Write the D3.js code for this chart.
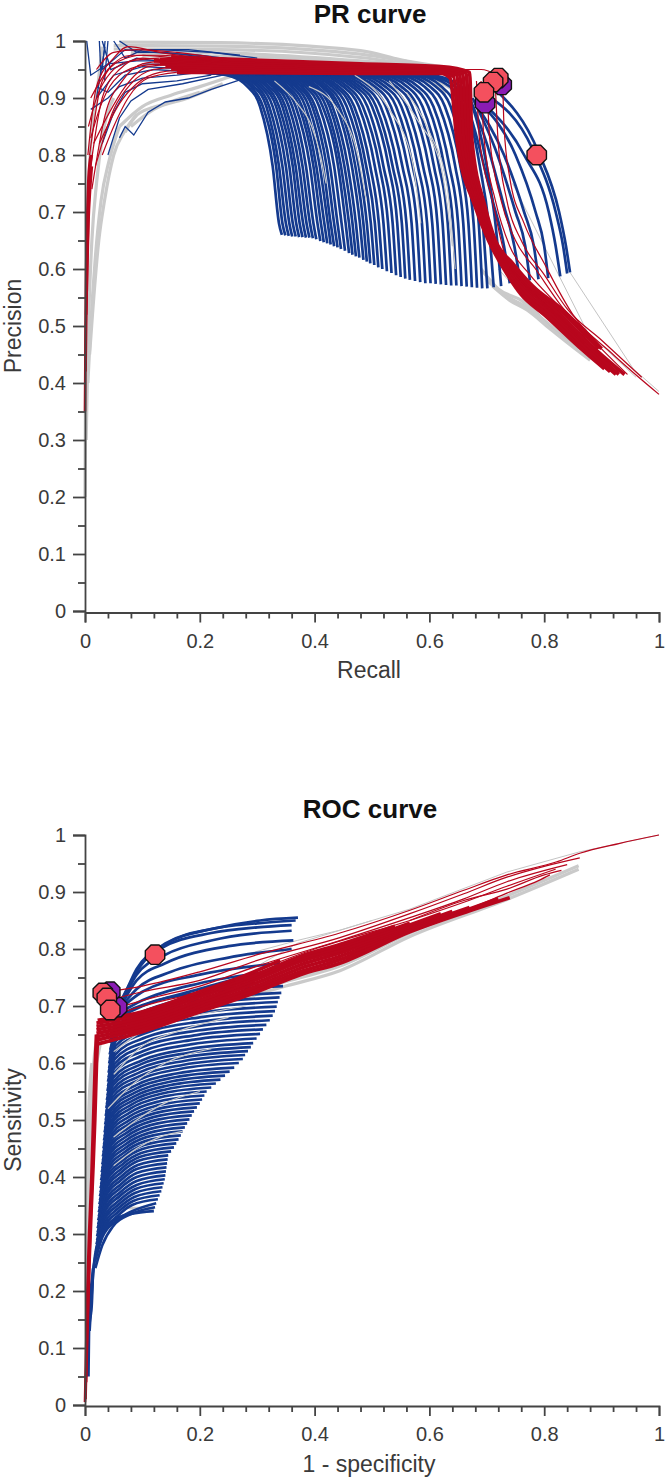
<!DOCTYPE html>
<html>
<head>
<meta charset="utf-8">
<script src="https://cdn.jsdelivr.net/npm/d3@7"></script>
<style>
  html, body { margin: 0; padding: 0; background: #fff; }
  text { font-family: "Liberation Sans", sans-serif; }
  .domain, .tick line { stroke: #444; stroke-width: 1.8; }
  .tick text { font-size: 20px; fill: #3a3a3a; font-family: "Liberation Sans", sans-serif; }
</style>
</head>
<body>
<div id="chart"></div>
<script>
// values
const yMajor = [0, 0.1, 0.2, 0.3, 0.4, 0.5, 0.6, 0.7, 0.8, 0.9, 1];
const yMinor = [0.05, 0.15, 0.25, 0.35, 0.45, 0.55, 0.65, 0.75, 0.85, 0.95];
const xMajor = [0, 0.2, 0.4, 0.6, 0.8, 1];
const xMinor = [0.04, 0.08, 0.12, 0.16, 0.24, 0.28, 0.32, 0.36, 0.44, 0.48, 0.52, 0.56, 0.64, 0.68, 0.72, 0.76, 0.84, 0.88, 0.92, 0.96];

// PR curve
const prGray = [
  [[0,.2],[.001,.4],[.003,.6],[.006,.72],[.01,.82],[.02,.9],[.03,.99]],
  [[.002,.3],[.006,.5],[.012,.65],[.02,.75],[.03,.83],[.05,.9]],
  [[.005,.4],[.01,.5],[.018,.62],[.028,.72],[.042,.79],[.06,.85]],
  [[.008,.45],[.013,.52],[.024,.65],[.034,.72],[.05,.8],[.068,.84],[.09,.87]],
  [[.06,.998],[.235,.997],[.48,.983],[.55,.967],[.62,.955]],
  [[.05,.992],[.235,.991],[.48,.977],[.62,.952]],
  [[.05,.986],[.235,.985],[.48,.971],[.63,.95]],
  [[.08,.98],[.235,.979],[.48,.965],[.64,.95]],
  [[.1,.974],[.3,.972],[.5,.96],[.64,.945]],
  [[.52,.948],[.58,.942],[.61,.933],[.64,.915]],
  [[.56,.94],[.6,.928],[.63,.91]],
  [[.06,.85],[.1,.885],[.15,.905],[.2,.92],[.26,.94]],
  [[.08,.85],[.12,.88],[.18,.9],[.24,.925]],
  [[.07,.84],[.09,.87],[.14,.89],[.2,.91]],
  [[.71,.57],[.74,.545],[.77,.528],[.81,.495],[.85,.463],[.88,.44]],
  [[.7,.58],[.73,.555],[.77,.532],[.82,.49],[.86,.46]],
  [[.69,.6],[.72,.565],[.76,.545],[.8,.51],[.85,.47]]
];
const prGrayOver = [
  [[.33,.93],[.37,.89],[.395,.85],[.41,.8],[.42,.75]],
  [[.39,.92],[.44,.88],[.475,.8],[.49,.72]],
  [[.47,.94],[.53,.88],[.57,.79],[.585,.68]],
  [[.53,.93],[.58,.86],[.62,.78],[.64,.64]],
  [[.56,.91],[.6,.84],[.63,.75],[.645,.6]]
];
const prGrayThin = [
  [[.845,.594],[.955,.425],[1,.385]],
  [[.745,.75],[.875,.49],[.96,.41]],
  [[.72,.6],[.81,.5],[.9,.43]]
];
const prBluePlateau = [.2, .945];
const prBlueLevels = [.94, .92, .885, .78, .68];
// each row: recall at the five levels above, then the last point of the curve
const prBlueArcs = [
  [.247,.283,.305,.327,.338,.343,.66],
  [.252,.289,.31,.333,.344,.349,.659],
  [.257,.294,.316,.338,.35,.355,.658],
  [.262,.3,.321,.344,.356,.361,.657],
  [.267,.305,.327,.35,.362,.367,.657],
  [.272,.31,.333,.356,.368,.373,.656],
  [.277,.316,.338,.362,.374,.379,.656],
  [.282,.321,.344,.367,.38,.385,.655],
  [.287,.327,.349,.373,.386,.391,.655],
  [.292,.332,.355,.379,.392,.397,.654],
  [.297,.337,.361,.385,.398,.403,.652],
  [.303,.344,.367,.392,.405,.41,.649],
  [.308,.349,.373,.398,.411,.416,.647],
  [.313,.354,.378,.403,.417,.422,.645],
  [.318,.36,.384,.409,.423,.428,.643],
  [.324,.366,.39,.415,.428,.434,.64],
  [.329,.371,.396,.421,.434,.44,.638],
  [.334,.377,.401,.427,.44,.446,.635],
  [.34,.383,.408,.434,.447,.453,.632],
  [.346,.389,.414,.441,.454,.46,.628],
  [.351,.395,.42,.446,.46,.466,.625],
  [.356,.4,.426,.452,.466,.472,.622],
  [.361,.405,.431,.458,.472,.478,.62],
  [.367,.412,.438,.465,.479,.485,.616],
  [.372,.417,.443,.471,.485,.491,.613],
  [.377,.423,.449,.477,.491,.497,.61],
  [.384,.43,.456,.484,.498,.504,.607],
  [.39,.436,.463,.49,.505,.511,.603],
  [.396,.442,.469,.497,.512,.518,.6],
  [.403,.45,.477,.505,.52,.526,.596],
  [.41,.457,.484,.513,.528,.534,.593],
  [.417,.465,.492,.52,.536,.542,.589],
  [.424,.472,.5,.529,.544,.55,.586],
  [.431,.479,.507,.536,.552,.558,.583],
  [.438,.487,.515,.544,.56,.566,.581],
  [.447,.496,.524,.553,.569,.575,.579],
  [.456,.505,.533,.562,.578,.584,.577],
  [.466,.514,.542,.571,.587,.593,.575],
  [.475,.523,.551,.58,.596,.602,.575],
  [.484,.532,.56,.589,.605,.611,.574],
  [.494,.542,.57,.599,.614,.62,.573],
  [.504,.551,.579,.608,.623,.629,.572],
  [.514,.561,.588,.617,.632,.638,.571],
  [.524,.571,.598,.626,.641,.647,.571],
  [.534,.58,.607,.635,.65,.656,.57],
  [.545,.591,.617,.645,.659,.665,.569],
  [.556,.601,.627,.654,.668,.674,.568],
  [.567,.611,.637,.663,.677,.683,.567],
  [.578,.621,.646,.672,.686,.692,.566],
  [.58,.636,.655,.677,.693,.701,.566],
  [.59,.645,.665,.688,.703,.712,.568],
  [.6,.655,.675,.7,.715,.725,.57]
];
const prBlueRight = [
  [[.66,.91],[.68,.84],[.71,.72],[.73,.64],[.74,.575]],
  [[.67,.9],[.7,.82],[.73,.71],[.748,.64],[.758,.578]],
  [[.675,.9],[.715,.81],[.75,.7],[.767,.64],[.775,.58]],
  [[.68,.89],[.73,.8],[.765,.7],[.782,.64],[.79,.582]],
  [[.69,.89],[.75,.8],[.785,.7],[.8,.64],[.807,.584]],
  [[.695,.89],[.765,.8],[.808,.7],[.82,.64],[.828,.587]],
  [[.7,.905],[.78,.81],[.82,.7],[.833,.64],[.84,.592]],
  [[.715,.915],[.79,.805],[.826,.7],[.838,.64],[.845,.594]]
];
const prBlueFan = [
  [[.003,1],[.01,.94],[.04,.96],[.09,.965],[.16,.965],[.22,.955]],
  [[.035,1],[.03,.95],[.07,.985],[.12,.98],[.2,.975],[.28,.965]],
  [[.03,1],[.045,.95],[.09,.97],[.16,.96],[.26,.955]],
  [[.05,1],[.07,.97],[.1,.985],[.18,.985],[.27,.975]],
  [[.035,.99],[.02,.9],[.05,.94],[.1,.955],[.2,.95]],
  [[.06,1],[.09,.98],[.14,.98],[.22,.97]],
  [[.025,1],[.028,.94]],
  [[.04,1],[.034,.93]],
  [[.02,.92],[.04,.91],[.07,.94],[.12,.95],[.2,.945]],
  [[.01,.88],[.04,.9],[.06,.92],[.1,.935],[.16,.94],[.24,.95]],
  [[.03,.82],[.05,.875],[.07,.91],[.1,.925],[.16,.93],[.22,.94]],
  [[.04,.8],[.06,.865],[.08,.895],[.11,.915],[.17,.925],[.24,.94]],
  [[.06,.83],[.07,.85],[.085,.835],[.11,.875],[.14,.893],[.18,.9],[.22,.915],[.27,.932]],
  [[.1,.96],[.2,.957],[.3,.955]],
  [[.13,.985],[.22,.98],[.3,.97]]
];
const prRedStrip = [
  [[0,.35],[.001,.5],[.002,.6],[.004,.7],[.006,.76],[.01,.8]],
  [[.001,.42],[.002,.5],[.004,.62],[.006,.7],[.008,.76],[.012,.8]],
  [[.002,.52],[.004,.6],[.006,.68],[.009,.74],[.012,.78]]
];
const prRedBand = [
  [[.16,.945],[.2,.945],[.48,.943],[.62,.943],[.636,.935],[.648,.826],[.68,.709],[.703,.65],[.73,.6],[.76,.555],[.8,.52],[.87,.455],[.905,.425]],
  [[.15,.95],[.2,.95],[.48,.946],[.62,.945],[.642,.938],[.652,.826],[.683,.709],[.705,.65],[.733,.602],[.764,.558],[.805,.522],[.875,.455],[.915,.42]],
  [[.14,.955],[.2,.954],[.48,.949],[.62,.947],[.648,.94],[.656,.826],[.686,.709],[.707,.65],[.736,.604],[.768,.561],[.81,.524],[.88,.455],[.925,.415]],
  [[.13,.96],[.2,.958],[.48,.952],[.62,.949],[.653,.94],[.661,.826],[.689,.709],[.709,.65],[.738,.606],[.772,.564],[.815,.526],[.885,.457],[.93,.415]],
  [[.12,.965],[.2,.962],[.48,.955],[.62,.951],[.658,.942],[.666,.826],[.692,.709],[.711,.65],[.74,.607],[.775,.567],[.82,.528],[.89,.458],[.94,.415]],
  [[.13,.968],[.2,.966],[.48,.958],[.62,.953],[.664,.944],[.67,.826],[.694,.709],[.713,.65],[.742,.608],[.777,.569],[.825,.53],[.895,.46]],
  [[.15,.972],[.2,.97],[.48,.96],[.62,.955],[.67,.945],[.674,.826],[.697,.709],[.715,.65],[.745,.61],[.78,.57],[.83,.53],[.9,.46]]
];
const prRedThin = [
  [[.005,.8],[.02,.92],[.05,.97],[.075,.99],[.13,.98],[.2,.97]],
  [[.008,.8],[.03,.93],[.06,.965],[.1,.975],[.16,.97],[.24,.965]],
  [[.01,.78],[.03,.9],[.06,.95],[.1,.97],[.15,.965],[.22,.962]],
  [[.012,.74],[.035,.87],[.065,.93],[.1,.96],[.14,.965]],
  [[.015,.82],[.04,.87],[.07,.92],[.11,.955],[.16,.96]],
  [[.018,.78],[.05,.88],[.08,.925],[.12,.95],[.17,.955]],
  [[.025,.82],[.06,.89],[.09,.925],[.13,.945],[.18,.95]],
  [[.01,.9],[.04,.95],[.08,.975],[.13,.975],[.2,.968]],
  [[.02,.95],[.05,.98],[.09,.985],[.16,.98],[.22,.972]],
  [[.01,.83],[.025,.88],[.05,.93],[.09,.955],[.13,.96]],
  [[.006,.85],[.02,.9],[.045,.945],[.08,.965],[.13,.97]],
  [[.03,.8],[.05,.85],[.075,.9],[.11,.935],[.16,.945]],
  [[.682,.93],[.687,.83],[.71,.72],[.73,.63],[.76,.58],[.81,.53],[.87,.47]],
  [[.69,.93],[.695,.83],[.715,.72],[.74,.64],[.775,.59],[.83,.53],[.88,.47],[.93,.42]],
  [[.7,.93],[.705,.83],[.725,.72],[.75,.65],[.785,.6],[.83,.535],[.89,.47],[.945,.415]],
  [[.715,.92],[.72,.82],[.735,.72],[.76,.65],[.8,.59],[.84,.53],[.9,.475],[.97,.41]],
  [[.728,.92],[.73,.85],[.74,.76],[.765,.68],[.8,.61],[.85,.52],[.92,.45],[1,.38]],
  [[.66,.95],[.69,.95],[.72,.94]]
];
const prPurple = [[.697, .891], [.726, .923]];
const prMarkers = [[.787, .8], [.72, .935], [.711, .928], [.695, .91]];

// ROC curve
const rocGray = [
  [[.001,.2],[.002,.3],[.004,.4],[.006,.5],[.012,.6]],
  [[.003,.25],[.006,.35],[.01,.48],[.014,.58],[.02,.64]],
  [[.02,.6],[.028,.64]],
  [[.28,.715],[.35,.735],[.444,.762],[.566,.822],[.735,.887],[.86,.94]],
  [[.26,.722],[.35,.743],[.444,.77],[.566,.828],[.735,.893],[.86,.946]],
  [[.22,.715],[.3,.74],[.4,.76],[.5,.8]],
  [[.06,.35],[.09,.345],[.12,.345]]
];
const rocGrayOver = [
  [[.05,.58],[.1,.63],[.16,.655],[.25,.68]],
  [[.05,.62],[.1,.655],[.16,.675],[.28,.7]],
  [[.04,.52],[.08,.56],[.14,.6],[.22,.625]],
  [[.05,.47],[.09,.5],[.14,.53],[.2,.55]],
  [[.05,.42],[.09,.45],[.13,.47],[.17,.48]]
];
const rocGrayThin = [
  [[.26,.785],[.37,.815],[.444,.833],[.566,.87],[.735,.935],[.86,.97],[1,1]],
  [[.3,.77],[.37,.81],[.5,.85]]
];
const rocBlue = [
  [[.002,.05],[.006,.15],[.012,.22],[.018,.26],[.03,.3],[.05,.325],[.08,.335],[.12,.34]],
  [[.006,.05],[.007,.13],[.012,.18],[.014,.24]],
  [[.008,.13],[.012,.2],[.016,.25],[.024,.29]],
  [[.018,.24],[.03,.28],[.05,.315],[.08,.335],[.122,.347]],
  [[.018,.254],[.03,.294],[.055,.324],[.08,.339],[.124,.354]],
  [[.019,.261],[.031,.301],[.056,.331],[.082,.351],[.127,.361]],
  [[.019,.268],[.031,.308],[.057,.338],[.084,.358],[.13,.368]],
  [[.02,.275],[.032,.315],[.058,.345],[.086,.365],[.133,.375]],
  [[.02,.282],[.032,.322],[.059,.352],[.087,.372],[.135,.382]],
  [[.021,.289],[.033,.329],[.06,.359],[.088,.379],[.137,.389]],
  [[.021,.296],[.033,.336],[.06,.366],[.09,.386],[.139,.396]],
  [[.022,.303],[.034,.343],[.061,.373],[.09,.393],[.14,.403]],
  [[.022,.31],[.034,.35],[.061,.38],[.09,.4],[.141,.41]],
  [[.023,.317],[.035,.357],[.062,.387],[.09,.407],[.142,.417]],
  [[.023,.324],[.035,.364],[.062,.394],[.09,.414],[.143,.424]],
  [[.024,.331],[.036,.371],[.063,.401],[.092,.421],[.144,.431]],
  [[.024,.338],[.036,.378],[.063,.408],[.092,.428],[.145,.438]],
  [[.025,.345],[.037,.385],[.064,.415],[.095,.435],[.15,.445]],
  [[.025,.352],[.037,.392],[.065,.422],[.098,.442],[.155,.452]],
  [[.026,.359],[.038,.399],[.066,.429],[.1,.449],[.159,.459]],
  [[.026,.366],[.038,.406],[.067,.436],[.103,.456],[.163,.466]],
  [[.027,.373],[.039,.413],[.068,.443],[.105,.463],[.167,.473]],
  [[.027,.38],[.039,.42],[.069,.45],[.107,.47],[.17,.48]],
  [[.028,.387],[.04,.427],[.07,.457],[.11,.477],[.174,.487]],
  [[.028,.394],[.04,.434],[.071,.464],[.112,.484],[.178,.494]],
  [[.029,.401],[.041,.441],[.072,.471],[.114,.491],[.182,.501]],
  [[.029,.408],[.041,.448],[.073,.478],[.116,.498],[.186,.508]],
  [[.03,.415],[.042,.455],[.074,.485],[.119,.505],[.19,.515]],
  [[.03,.422],[.042,.462],[.075,.492],[.122,.512],[.195,.522]],
  [[.031,.429],[.043,.469],[.076,.499],[.125,.519],[.2,.529]],
  [[.031,.436],[.043,.476],[.077,.506],[.128,.526],[.204,.536]],
  [[.032,.443],[.044,.483],[.078,.513],[.13,.533],[.208,.543]],
  [[.032,.45],[.044,.49],[.079,.52],[.132,.54],[.212,.55]],
  [[.033,.457],[.045,.497],[.081,.527],[.137,.547],[.22,.557]],
  [[.033,.464],[.045,.504],[.083,.534],[.142,.554],[.228,.564]],
  [[.034,.471],[.046,.511],[.085,.541],[.147,.561],[.236,.571]],
  [[.034,.478],[.046,.518],[.087,.548],[.152,.568],[.244,.578]],
  [[.035,.485],[.047,.525],[.089,.555],[.157,.575],[.252,.585]],
  [[.035,.492],[.047,.532],[.091,.562],[.162,.582],[.26,.592]],
  [[.036,.5],[.048,.54],[.093,.57],[.167,.59],[.268,.6]],
  [[.036,.507],[.048,.547],[.095,.577],[.172,.597],[.275,.607]],
  [[.037,.514],[.049,.554],[.096,.584],[.175,.604],[.279,.614]],
  [[.037,.521],[.049,.561],[.097,.591],[.178,.611],[.284,.621]],
  [[.038,.528],[.05,.568],[.098,.598],[.181,.618],[.289,.628]],
  [[.038,.535],[.05,.575],[.1,.605],[.184,.625],[.293,.635]],
  [[.039,.543],[.051,.583],[.1,.613],[.187,.633],[.299,.643]],
  [[.039,.551],[.051,.591],[.102,.621],[.19,.641],[.305,.651]],
  [[.04,.559],[.052,.599],[.103,.629],[.194,.649],[.31,.659]],
  [[.04,.567],[.052,.607],[.105,.637],[.197,.657],[.316,.667]],
  [[.041,.575],[.053,.615],[.106,.645],[.2,.665],[.322,.675]],
  [[.041,.583],[.053,.623],[.107,.653],[.204,.673],[.327,.683]],
  [[.042,.591],[.054,.631],[.108,.661],[.206,.681],[.331,.691]],
  [[.042,.599],[.054,.639],[.109,.669],[.208,.689],[.334,.699]],
  [[.043,.607],[.055,.647],[.11,.677],[.21,.697],[.336,.707]],
  [[.043,.615],[.055,.655],[.11,.685],[.212,.705],[.339,.715]],
  [[.044,.623],[.056,.663],[.11,.693],[.214,.713],[.342,.723]],
  [[.044,.635],[.056,.675],[.11,.705],[.216,.725],[.345,.735]],
  [[.05,.665],[.1,.69],[.2,.72],[.3,.74]],
  [[.05,.675],[.1,.7],[.2,.73],[.29,.755]],
  [[.055,.685],[.1,.71],[.2,.74],[.32,.76]],
  [[.055,.69],[.1,.725],[.2,.755],[.34,.775]],
  [[.058,.692],[.09,.73],[.15,.76],[.25,.785],[.36,.8]],
  [[.06,.695],[.09,.745],[.14,.775],[.25,.805],[.363,.815]],
  [[.062,.7],[.09,.755],[.14,.79],[.22,.815],[.36,.832]],
  [[.065,.706],[.09,.762],[.13,.8],[.22,.828],[.3,.838],[.36,.842]],
  [[.066,.712],[.09,.765],[.135,.805],[.22,.835],[.3,.845],[.367,.85]],
  [[.066,.716],[.095,.768],[.14,.81],[.235,.838],[.305,.85],[.371,.855]]
];
const rocRedStrip = [
  [[0,.005],[.002,.1],[.004,.2],[.007,.3],[.011,.4],[.014,.5],[.017,.6],[.019,.65]],
  [[.001,.01],[.003,.1],[.006,.2],[.009,.3],[.013,.4],[.016,.5],[.019,.6],[.021,.65]],
  [[.002,.04],[.004,.12],[.008,.25],[.012,.35],[.015,.42],[.018,.5],[.021,.6],[.023,.65]]
];
const rocRedBand = [
  [[.02,.633],[.1,.655],[.2,.69],[.3,.725],[.375,.755],[.444,.775],[.566,.83],[.67,.867],[.74,.89]],
  [[.02,.64],[.1,.66],[.2,.695],[.3,.73],[.375,.76],[.444,.781],[.566,.833],[.67,.87],[.72,.888]],
  [[.02,.646],[.1,.665],[.2,.7],[.3,.735],[.375,.766],[.444,.787],[.566,.836],[.67,.873]],
  [[.02,.652],[.1,.67],[.2,.705],[.3,.741],[.375,.772],[.444,.793],[.566,.839],[.64,.866]],
  [[.02,.658],[.1,.675],[.2,.71],[.3,.747],[.375,.778],[.444,.798],[.566,.842],[.62,.862]],
  [[.02,.664],[.1,.68],[.2,.716],[.3,.752],[.375,.783],[.444,.803],[.566,.845]],
  [[.02,.67],[.1,.685],[.2,.72],[.3,.756],[.375,.787],[.444,.808],[.54,.84]],
  [[.022,.675],[.1,.69],[.2,.725],[.27,.75],[.34,.78]]
];
const rocRedThin = [
  [[.04,.725],[.1,.735],[.2,.76],[.3,.79],[.444,.828],[.566,.868],[.66,.903],[.735,.93],[.822,.953],[.862,.968],[.93,.985],[1,1]],
  [[.04,.71],[.1,.725],[.2,.745],[.3,.78],[.444,.82],[.566,.862],[.66,.897],[.735,.926],[.8,.945],[.862,.96]],
  [[.05,.695],[.12,.715],[.2,.735],[.3,.77],[.444,.815],[.566,.855],[.66,.888],[.735,.918],[.84,.948]],
  [[.05,.685],[.12,.705],[.2,.725],[.28,.755],[.4,.8],[.566,.85],[.66,.882],[.735,.91],[.82,.94]],
  [[.045,.68],[.12,.695],[.2,.72],[.26,.745]],
  [[.566,.85],[.66,.885],[.735,.905],[.8,.93],[.83,.938]],
  [[.6,.85],[.68,.875],[.735,.898],[.79,.92],[.81,.93]]
];
const rocPurple = [[.056, .698], [.044, .725]];
const rocMarkers = [[.122, .79], [.031, .723], [.038, .714], [.044, .693]];

const panels = [
  { title: "PR curve", xLabel: "Recall", yLabel: "Precision", top: 41, bottom: 611, axisY: 612.5, titleY: 23, xLabelY: 678,
    gray: prGray, grayOver: prGrayOver, grayThin: prGrayThin,
    blue: prBlueArcs.map(r => [prBluePlateau, ...prBlueLevels.map((l, i) => [r[i], l]), [r[5], r[6]]]).concat(prBlueRight),
    fan: prBlueFan, strip: prRedStrip, band: prRedBand, thin: prRedThin, purple: prPurple, markers: prMarkers },
  { title: "ROC curve", xLabel: "1 - specificity", yLabel: "Sensitivity", top: 835, bottom: 1405, axisY: 1406, titleY: 818, xLabelY: 1472,
    gray: rocGray, grayOver: rocGrayOver, grayThin: rocGrayThin, blue: rocBlue, fan: [], strip: rocRedStrip, band: rocRedBand, thin: rocRedThin, purple: rocPurple, markers: rocMarkers }
];

const svg = d3.select("#chart").append("svg")
  .attr("width", 666)
  .attr("height", 1482)
  .style("display", "block");

const octagon = d3.lineRadial()
  .angle(d => d)
  .radius(10.5)
  .curve(d3.curveLinearClosed);
const octAngles = d3.range(8).map(i => Math.PI / 8 + i * Math.PI / 4);

panels.forEach(p => {
  const g = svg.append("g");
  const x = d3.scaleLinear().domain([0, 1]).range([85, 659]);
  const y = d3.scaleLinear().domain([0, 1]).range([p.bottom, p.top]);

  const smooth = d3.line().x(d => x(d[0])).y(d => y(d[1])).curve(d3.curveMonotoneX);
  const straight = d3.line().x(d => x(d[0])).y(d => y(d[1]));

  const draw = (rows, gen, color, width) => g.append("g")
    .attr("fill", "none")
    .attr("stroke", color)
    .attr("stroke-width", width)
    .selectAll("path").data(rows).join("path")
    .attr("d", gen);

  draw(p.gray, smooth, "#cacaca", 3.2);
  draw(p.grayThin, straight, "#c4c4c4", 1);
  draw(p.blue, smooth, "#143a8e", 2.7);
  draw(p.grayOver, smooth, "#cacaca", 1.2);
  draw(p.fan, straight, "#143a8e", 1.3);
  draw(p.strip, smooth, "#b8061d", 2.6);
  draw(p.band, smooth, "#b8061d", 3.7);
  draw(p.thin, smooth, "#b8061d", 1.2);

  const marks = (rows, color) => g.append("g")
    .selectAll("path").data(rows).join("path")
    .attr("transform", d => `translate(${x(d[0])},${y(d[1])})`)
    .attr("d", octagon(octAngles))
    .attr("fill", color)
    .attr("stroke", "#111")
    .attr("stroke-width", 1.4);
  marks(p.purple, "#8a1cb4");
  marks(p.markers, "#f4505e");

  // axes, major and minor ticks separately
  g.append("g").attr("transform", "translate(85,0)")
    .call(d3.axisLeft(y).tickValues(yMajor).tickSize(12).tickPadding(7).tickFormat(d => d));
  g.append("g").attr("transform", "translate(85,0)")
    .call(d3.axisLeft(y).tickValues(yMinor).tickSize(7).tickFormat(""))
    .select(".domain").remove();
  g.append("g").attr("transform", `translate(0,${p.axisY})`)
    .call(d3.axisBottom(x).tickValues(xMajor).tickSize(10).tickPadding(11).tickFormat(d => d));
  g.append("g").attr("transform", `translate(0,${p.axisY})`)
    .call(d3.axisBottom(x).tickValues(xMinor).tickSize(6).tickFormat(""))
    .select(".domain").remove();

  g.append("text").attr("x", 370).attr("y", p.titleY)
    .attr("text-anchor", "middle").attr("font-size", 26).attr("font-weight", "bold").attr("fill", "#111")
    .text(p.title);
  g.append("text").attr("x", 369).attr("y", p.xLabelY)
    .attr("text-anchor", "middle").attr("font-size", 23).attr("fill", "#3a3a3a")
    .text(p.xLabel);
  g.append("text")
    .attr("transform", `translate(21,${(p.top + p.bottom) / 2}) rotate(-90)`)
    .attr("text-anchor", "middle").attr("font-size", 23).attr("fill", "#3a3a3a")
    .text(p.yLabel);
});
</script>
</body>
</html>
